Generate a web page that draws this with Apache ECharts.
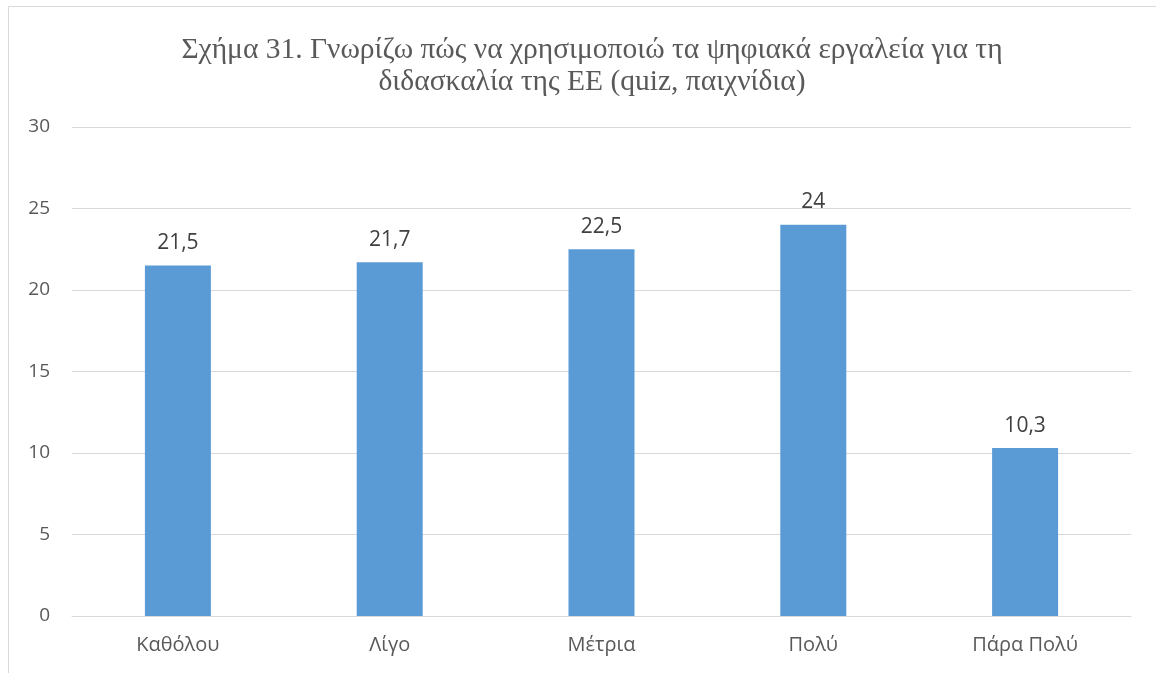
<!DOCTYPE html>
<html>
<head>
<meta charset="utf-8">
<script src="https://cdn.jsdelivr.net/npm/echarts@6/dist/echarts.min.js"></script>
<style>
   html, body { margin: 0; padding: 0; background: #fff; }
   #chart { width: 1156px; height: 673px; }
</style>
</head>
<body>
<div id="chart"></div>
<script>
   var categories = [ 'Καθόλου', 'Λίγο', 'Μέτρια', 'Πολύ', 'Πάρα Πολύ' ] ;
   var values = [ 21.5, 21.7, 22.5, 24, 10.3 ] ;
   var titleText = 'Σχήμα 31. Γνωρίζω πώς να χρησιμοποιώ τα ψηφιακά εργαλεία για τη\nδιδασκαλία της ΕΕ (quiz, παιχνίδια)' ;

   var chart = echarts.init( document.getElementById( 'chart' ) ) ;
   chart.setOption( {
      animation: false,
      title: {
         text: titleText,
         left: 587,
         top: 29,
         textAlign: 'center',
         textStyle: {
            fontFamily: 'Liberation Serif',
            fontWeight: 'normal',
            fontSize: 29.5,
            lineHeight: 32,
            color: '#595959'
         }
      },
      // frame of the chart box
      graphic: [ {
         type: 'rect',
         shape: { x: 8.5, y: 6.5, width: 1160, height: 680 },
         style: { fill: 'none', stroke: '#d9d9d9', lineWidth: 1 },
         silent: true
      } ],
      grid: { left: 72, right: 25, top: 127, bottom: 57 },
      xAxis: {
         type: 'category',
         data: categories,
         axisLine: { lineStyle: { color: '#d9d9d9', width: 1 } },
         axisTick: { show: false },
         axisLabel: { color: '#595959', fontSize: 20, fontFamily: 'Open Sans', margin: 19 }
      },
      yAxis: {
         type: 'value',
         min: 0,
         max: 30,
         interval: 5,
         axisLine: { show: false },
         axisTick: { show: false },
         splitLine: { lineStyle: { color: '#d9d9d9', width: 1 } },
         axisLabel: { color: '#595959', fontSize: 19, fontFamily: 'Open Sans', margin: 22 }
      },
      series: [ {
         type: 'bar',
         data: values,
         barWidth: 66,
         itemStyle: { color: '#5b9bd5' },
         label: {
            show: true,
            position: 'top',
            distance: 12,
            color: '#404040',
            fontSize: 21,
            fontFamily: 'Open Sans',
            formatter: function( p ){
               return String( p.value ).replace( '.', ',' ) ;
            }
         }
      } ]
   } ) ;
</script>
</body>
</html>
